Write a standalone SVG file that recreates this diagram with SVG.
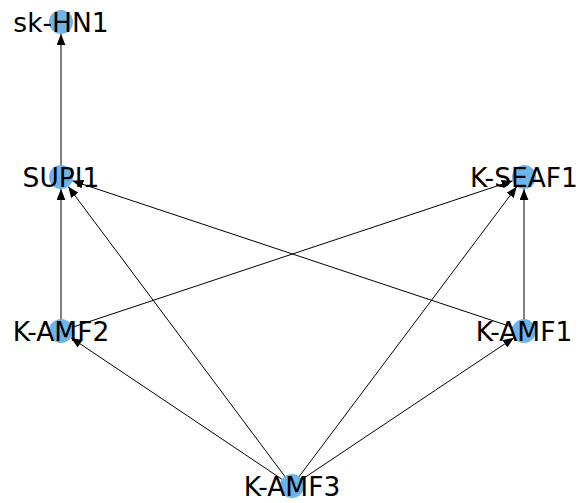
<svg xmlns="http://www.w3.org/2000/svg" width="579" height="503" viewBox="0 0 579 503">
<style>
.e{stroke:#000;stroke-width:1;fill:none;marker-end:url(#ah)}
.n circle{fill:#6fb4e8}
.n text{font-family:"DejaVu Sans",sans-serif;font-size:26.5px;fill:#000;text-anchor:middle}
</style>
<defs>
<marker id="ah" markerUnits="userSpaceOnUse" markerWidth="11" markerHeight="9" refX="10" refY="4" orient="auto" viewBox="0 0 10 8">
<path d="M0,0 L10,4 L0,8 z" fill="#000"/>
</marker>
</defs>
<rect width="579" height="503" fill="#fff"/>
<g id="edges">
<line class="e" x1="61" y1="177" x2="61" y2="34"/>
<line class="e" x1="61" y1="331" x2="61" y2="189"/>
<line class="e" x1="292" y1="486" x2="68.2" y2="186.6"/>
<line class="e" x1="524" y1="331" x2="72.4" y2="180.8"/>
<line class="e" x1="61" y1="331" x2="512.6" y2="180.8"/>
<line class="e" x1="292" y1="486" x2="516.8" y2="186.6"/>
<line class="e" x1="524" y1="331" x2="524" y2="189"/>
<line class="e" x1="292" y1="486" x2="71" y2="337.7"/>
<line class="e" x1="292" y1="486" x2="514" y2="337.7"/>
</g>
<g id="sk-HN1" class="n"><circle cx="61" cy="22" r="12"/><text x="61" y="31.5">sk-HN1</text></g>
<g id="SUPI1" class="n"><circle cx="61" cy="177" r="12"/><text x="61" y="186.5">SUPI1</text></g>
<g id="K-SEAF1" class="n"><circle cx="524" cy="177" r="12"/><text x="524" y="186.5">K-SEAF1</text></g>
<g id="K-AMF2" class="n"><circle cx="61" cy="331" r="12"/><text x="61" y="340.5">K-AMF2</text></g>
<g id="K-AMF1" class="n"><circle cx="524" cy="331" r="12"/><text x="524" y="340.5">K-AMF1</text></g>
<g id="K-AMF3" class="n"><circle cx="292" cy="486" r="12"/><text x="292" y="495.5">K-AMF3</text></g>
</svg>
